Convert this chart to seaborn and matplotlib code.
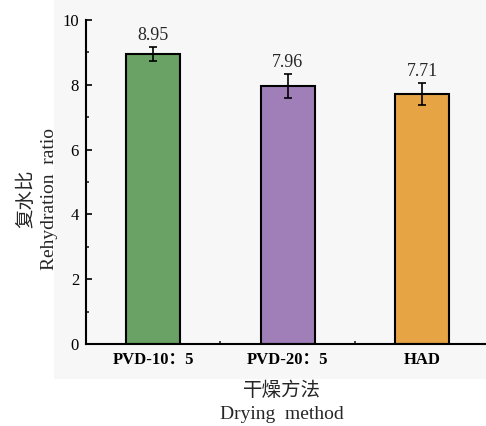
import matplotlib
matplotlib.use("Agg")
import matplotlib.pyplot as plt
import seaborn as sns
import pandas as pd
import numpy as np
from matplotlib.patches import Rectangle
from matplotlib.ticker import MultipleLocator, FixedLocator

categories = ["PVD-10：5", "PVD-20：5", "HAD"]
values = [8.95, 7.96, 7.71]
errors = [0.21, 0.37, 0.34]
colors = ["#6aa164", "#a07fb8", "#e6a445"]

sns.set_style("ticks")
plt.rcParams['font.family'] = ['Liberation Serif', 'Noto Sans CJK SC']

df = pd.DataFrame({"method": categories, "ratio": values})

fig = plt.figure(figsize=(4.86, 4.26), dpi=100)
fig.patches.append(Rectangle((54/486, 47/426), 1 - 54/486, 1 - 47/426,
                             transform=fig.transFigure, facecolor="#f7f7f7",
                             edgecolor="none", zorder=-10))
ax = fig.add_axes([86/486, 82/426, (486-86)/486, 324/426])
ax.patch.set_alpha(0)

sns.barplot(data=df, x="method", y="ratio", hue="method", palette=colors,
            saturation=1, width=0.4, edgecolor="black", linewidth=1.5,
            legend=False, ax=ax, errorbar=None, zorder=2)
ax.errorbar(np.arange(len(values)), values, yerr=errors, fmt="none",
            ecolor="black", elinewidth=1.2, capsize=3, capthick=1.2, zorder=3)

for i, (v, e) in enumerate(zip(values, errors)):
    ax.text(i, v + e + 0.1, f"{v:.2f}", ha="center", va="bottom",
            fontsize=13, family=['Liberation Serif'])

ax.set_ylim(0, 10)
ax.set_xlim(-0.5, 2.475)
ax.yaxis.set_major_locator(MultipleLocator(2))
ax.yaxis.set_minor_locator(MultipleLocator(1))
ax.xaxis.set_minor_locator(FixedLocator([0.5, 1.5]))
ax.tick_params(axis="both", which="major", direction="in", length=4, width=1.2,
               labelsize=12, colors="black")
ax.tick_params(axis="both", which="minor", direction="in", length=2, width=1.2)
ax.tick_params(axis="x", which="major", pad=6)
ax.tick_params(axis="y", which="major", pad=5)
for lab in ax.get_xticklabels():
    lab.set_fontweight("bold")
    lab.set_fontsize(12)

for s in ["top", "right"]:
    ax.spines[s].set_visible(False)
for s in ["left", "bottom"]:
    ax.spines[s].set_linewidth(1.5)
    ax.spines[s].set_color("black")

ax.set_xlabel("干燥方法\nDrying  method", fontsize=14, linespacing=1.45,
              fontweight="light")
ax.xaxis.set_label_coords(0.49, -0.115)
ax.set_ylabel("复水比\nRehydration  ratio", fontsize=14, linespacing=1.45,
              fontweight="light")
ax.yaxis.set_label_coords(-0.07, 0.447)

fig.savefig("out.png", dpi=100)
